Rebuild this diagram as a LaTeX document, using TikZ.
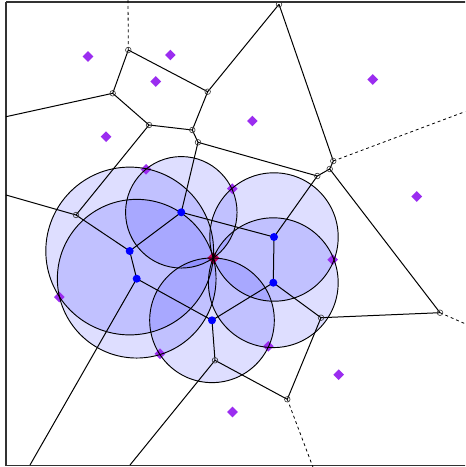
\documentclass[tikz,border=0pt]{standalone}
\usetikzlibrary{through,calc}
\definecolor{sitecol}{RGB}{155,45,240}
\definecolor{centcol}{RGB}{200,0,90}
\definecolor{framecol}{RGB}{50,50,50}
\tikzset{
  vedge/.style={black,line width=0.75pt},
  vdash/.style={black,line width=0.6pt,dash pattern=on 2.2pt off 2.2pt},
  vmark/.style={circle,draw=black!80,line width=0.45pt,inner sep=0pt,minimum size=4.2pt},
  bmark/.style={circle,fill=blue,inner sep=0pt,minimum size=6pt},
  cfill/.style={fill=blue,fill opacity=0.13,draw=none},
  cline/.style={draw=black,line width=0.7pt,fill=none},
}
\begin{document}
\begin{tikzpicture}[x=0.75pt,y=-0.75pt]
\clip (0,0) rectangle (465,467);
\fill[white] (0,0) rectangle (465,467);
% Voronoi vertices
\coordinate (A) at (128.3,50);
\coordinate (B) at (112.7,93.3);
\coordinate (C) at (207.7,91.7);
\coordinate (D) at (149,125);
\coordinate (E) at (192.3,130);
\coordinate (F) at (198,142.3);
\coordinate (G) at (76,215);
\coordinate (H) at (181.3,212.3);
\coordinate (I) at (279,4.3);
\coordinate (J) at (333.3,161);
\coordinate (K) at (329.7,169);
\coordinate (L) at (317.3,176);
\coordinate (M) at (274,237);
\coordinate (N) at (129.7,251);
\coordinate (O) at (136.7,278.7);
\coordinate (P) at (212,320.3);
\coordinate (Q) at (215,360.3);
\coordinate (R) at (273.3,282.7);
\coordinate (S) at (321,317.7);
\coordinate (T) at (440,312.7);
\coordinate (U) at (287.3,399.3);
% border ends
\coordinate (bA) at (128,-5);
\coordinate (bB) at (6,116.7);
\coordinate (bG) at (6,195);
\coordinate (bJ) at (470,109.8);
\coordinate (bT) at (470,325.9);
\coordinate (bU) at (312.9,467);
\coordinate (bO) at (30,465);
\coordinate (bQ) at (130,465);
% central site
\coordinate (c) at (213.3,258);
% circle fills
\foreach \v in {N,O,H,P,M,R}{
  \node[cfill,circle through=(c)] (f\v) at (\v) {};
}
% sites
\foreach \p/\n in {{(88,56.5)}/s1,{(170.3,55)}/s2,{(155.7,81.5)}/s3,{(106,136.7)}/s4,{(146,169.3)}/s5,{(252.3,121)}/s6,{(372.7,79.5)}/s7,{(232.3,188.7)}/s8,{(416.7,196.5)}/s9,{(332.7,259.7)}/s10,{(59.3,297)}/s12,{(160,353.7)}/s13,{(268.3,346.3)}/s14,{(338.7,374.7)}/s15,{(232.5,412)}/s16}{
  \path \p coordinate (\n);
  \fill[sitecol] ($(\n)+(0,-5.3)$) -- ($(\n)+(5.3,0)$) -- ($(\n)+(0,5.3)$) -- ($(\n)+(-5.3,0)$) -- cycle;
}
\fill[centcol] ($(c)+(0,-6)$) -- ($(c)+(6,0)$) -- ($(c)+(0,6)$) -- ($(c)+(-6,0)$) -- cycle;
% circle outlines
\foreach \v in {N,O,H,P,M,R}{
  \node[cline,circle through=(c)] (o\v) at (\v) {};
}
% frame
\draw[framecol,line width=1.1pt] (6,2) -- (480,2);
\draw[framecol,line width=1.1pt] (6,2) -- (6,465.5) -- (480,465.5);
% edges
\draw[vdash] (A) -- (bA);
\draw[vdash] (J) -- (bJ);
\draw[vdash] (T) -- (bT);
\draw[vdash] (U) -- (bU);
\draw[vedge] (A) -- (B) (A) -- (C) (B) -- (bB) (B) -- (D) (D) -- (E) (C) -- (E)
  (C) -- (I) (E) -- (F) (F) -- (L) (D) -- (G) (G) -- (bG) (G) -- (N)
  (F) -- (H) (H) -- (N) (H) -- (M) (I) -- (J) (J) -- (K) (K) -- (L)
  (K) -- (T) (L) -- (M) (M) -- (R) (R) -- (S) (S) -- (T) (S) -- (U)
  (Q) -- (U) (P) -- (R) (P) -- (Q) (O) -- (P) (N) -- (O) (O) -- (bO) (Q) -- (bQ);
% markers
\foreach \v in {A,B,C,D,E,F,G,I,J,K,L,Q,S,T,U}{
  \node[vmark] (m\v) at (\v) {};
}
\foreach \v in {H,N,O,P,M,R}{
  \node[bmark] (d\v) at (\v) {};
}
\end{tikzpicture}
\end{document}
